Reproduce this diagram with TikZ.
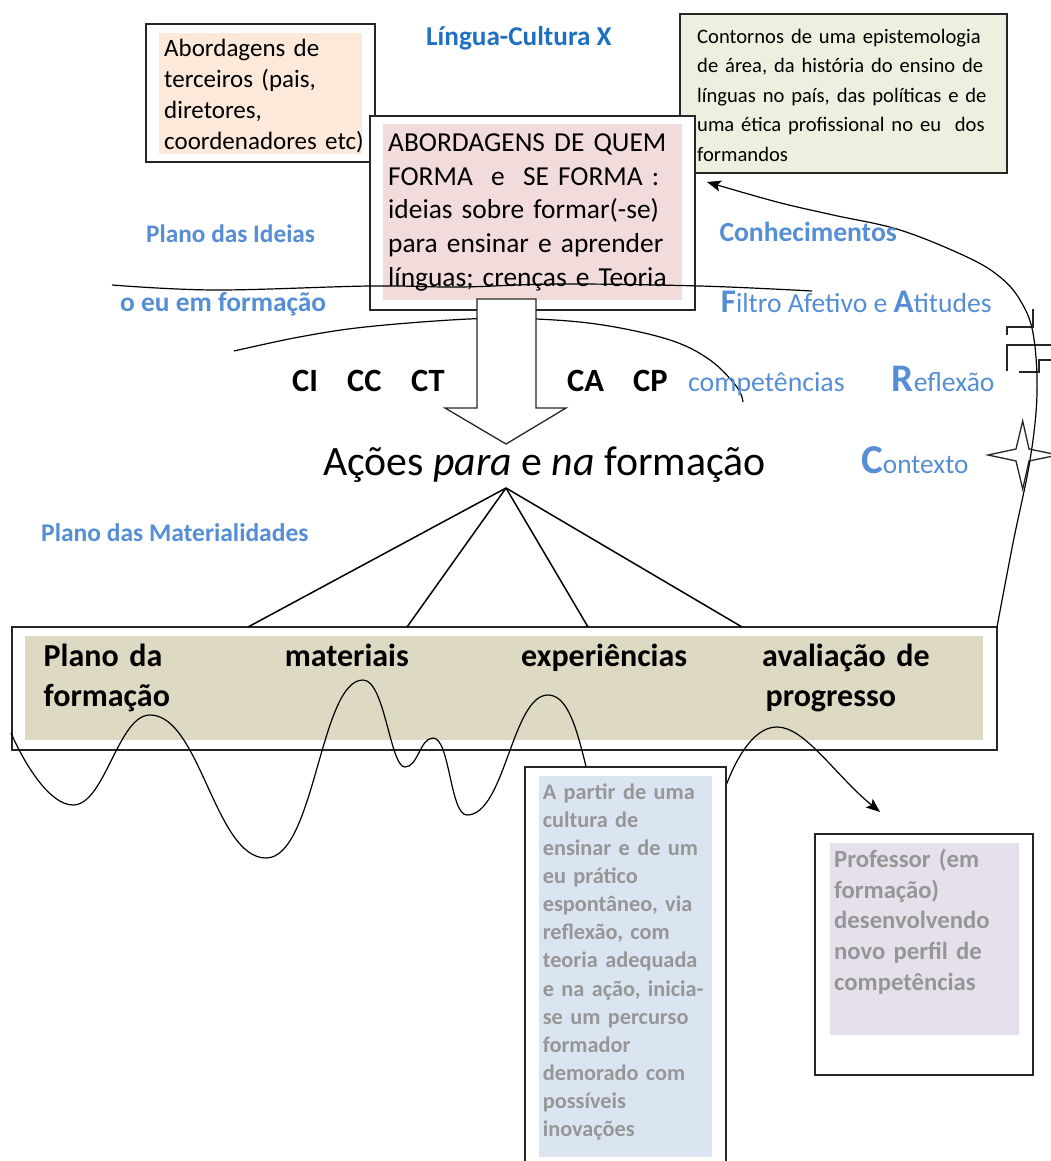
\documentclass[tikz,border=0pt]{standalone}
\usepackage{fontspec}
\setmainfont{Carlito}
\usetikzlibrary{arrows.meta,calc}
\definecolor{peach}{RGB}{253,233,217}
\definecolor{pinkf}{RGB}{242,220,219}
\definecolor{greenf}{RGB}{235,241,222}
\definecolor{tanf}{RGB}{221,217,195}
\definecolor{bluef}{RGB}{219,229,241}
\definecolor{lavf}{RGB}{229,224,236}
\definecolor{lblue}{RGB}{85,142,213}
\definecolor{dblue}{RGB}{31,112,192}
\definecolor{graytxt}{RGB}{150,150,150}
\definecolor{frameclr}{RGB}{38,38,38}
\newcommand{\fsz}[2]{\fontsize{#1}{#2}\selectfont}
\begin{document}
\begin{tikzpicture}[x=1pt,y=-1pt,
  frame/.style={draw=frameclr, line width=1.6pt, fill=white, rectangle, inner sep=0, outer sep=0, anchor=north west},
  fillbox/.style={rectangle, inner sep=0, outer sep=0, anchor=north west, draw=none},
  txt/.style={inner sep=0, anchor=base west, align=left},
  curve/.style={draw=black, line width=1.2pt},
  fan/.style={draw=black, line width=1.5pt},
  lbl/.style={inner sep=0, anchor=base west, text=lblue},
  bigtip/.style={-{Stealth[length=14pt,width=11pt,inset=3pt]}},
  bold/.style={inner sep=0, anchor=base west, font=\bfseries\fsz{32.5}{32.5}},
  band/.style={inner sep=0, anchor=base west, align=left, text width=230, font=\bfseries\fsz{32}{40}}
]
\useasboundingbox[fill=white] (0,0) rectangle (1050,1161);

% green box (top right)
\node[frame, fill=greenf, minimum width=327, minimum height=159] (green) at (680,14) {};
\node[txt, text width=320, font=\fsz{20.6}{29.5}] (greentxt) at (697,43.3)
  {Contornos de uma epistemologia\\ de área, da história do ensino de\\ línguas no país, das políticas e de\\ uma ética profissional no eu~ dos\\ formandos};

% top-left box
\node[frame, minimum width=229, minimum height=138] (third) at (146,24) {};
\node[fillbox, fill=peach, minimum width=203, minimum height=121] (thirdfill) at (159,33) {};
\node[txt, text width=220, font=\fsz{25}{30.9}] (thirdtxt) at (164,56.7)
  {Abordagens de\\ terceiros (pais,\\ diretores,\\ coordenadores etc)};

% main box
\node[frame, minimum width=325, minimum height=194] (main) at (370,116) {};
\node[fillbox, fill=pinkf, minimum width=299, minimum height=176] (mainfill) at (383,124) {};
\node[txt, text width=320, font=\fsz{27.4}{33.6}] (maintxt) at (388,151.7)
  {ABORDAGENS DE QUEM\\ FORMA~ e~ SE FORMA :\\ ideias sobre formar(-se)\\ para ensinar e aprender\\ línguas; crenças e Teoria};

% wavy separator line
\draw[curve] plot[smooth, tension=0.6] coordinates {(112,285) (215,290) (370,286) (460,287) (560,284) (700,286) (812,291)};

% arc
\draw[curve] plot[smooth, tension=0.6] coordinates {(234,351) (301,336.7) (368,326.7) (469,319) (536,319) (603,325) (670,340) (710,360) (736.7,386.7) (743,402)};

% block arrow
\draw[draw=frameclr, line width=1.3pt, fill=white] (477,299) -- (536,299) -- (536,408) -- (566,408) -- (506,444) -- (445,408) -- (477,408) -- cycle;

% competence codes
\node[bold] (ci) at (292,391.7) {CI};
\node[bold] (cc) at (347,391.7) {CC};
\node[bold] (ct) at (411,391.7) {CT};
\node[bold] (ca) at (567,391.7) {CA};
\node[bold] (cp) at (633,391.7) {CP};

% actions
\node[txt, font=\fsz{41.8}{42}] (acoes) at (323,475) {Ações \textit{para} e \textit{na} formação};
\coordinate (apex) at (506,488);

% band
\node[frame, minimum width=985, minimum height=123] (band) at (12,627) {};
\node[fillbox, fill=tanf, minimum width=958, minimum height=104] (bandfill) at (25,636) {};
\node[band] (b1) at (43.5,666.7) {Plano da\\ formação};
\node[band] (b2) at (284.6,666.7) {materiais};
\node[band] (b3) at (521,666.7) {experiências};
\node[band] (b4) at (762,666.7) {avaliação de\\ \hspace*{3.4pt}progresso};

\coordinate (t1) at (248,627);
\coordinate (t2) at (407,627);
\coordinate (t3) at (588,627);
\coordinate (t4) at (742,627);
\draw[fan] (apex) -- (t1);
\draw[fan] (apex) -- (t2);
\draw[fan] (apex) -- (t3);
\draw[fan] (apex) -- (t4);

% bottom wave
\coordinate (wstart) at (11,733);
\coordinate (wend) at (880,812);
\draw[curve, bigtip] (wstart) .. controls (25,765) and (50,805) .. (73,805)
  .. controls (105,805) and (118,715) .. (150,715)
  .. controls (200,715) and (215,858) .. (266,858)
  .. controls (315,858) and (320,680) .. (363,680)
  .. controls (385,680) and (390,767) .. (405,767)
  .. controls (418,767) and (420,738) .. (433,738)
  .. controls (450,738) and (450,815) .. (467,815)
  .. controls (505,815) and (512,695) .. (548,695)
  .. controls (572,695) and (580,745) .. (592,790)
  .. controls (610,860) and (700,850) .. (727,783)
  .. controls (740,750) and (757,727) .. (777,727)
  .. controls (805,727) and (835,775) .. (wend);

% A partir box
\node[frame, minimum width=201, minimum height=420] (apbox) at (525,767) {};
\node[fillbox, fill=bluef, minimum width=173, minimum height=381] (apfill) at (539,776) {};
\node[txt, text width=180, text=graytxt, font=\bfseries\fsz{22.3}{28.1}] (aptxt) at (542.6,799.3)
  {A partir de uma\\ cultura de\\ ensinar e de um\\ eu prático\\ espontâneo, via\\ reflexão, com\\ teoria adequada\\ e na ação, inicia-\\ se um percurso\\ formador\\ demorado com\\ possíveis\\ inovações};

% Professor box
\node[frame, minimum width=218, minimum height=241] (prof) at (815,834) {};
\node[fillbox, fill=lavf, minimum width=189, minimum height=192] (proffill) at (830,843) {};
\node[txt, text width=185, text=graytxt, font=\bfseries\fsz{24.7}{30.8}] (proftxt) at (834,867.3)
  {Professor (em\\ formação)\\ desenvolvendo\\ novo perfil de\\ competências};

% star
\draw[draw=frameclr, line width=1.3pt] (1022.7,421) -- (1029,449) -- (1058,455) -- (1029,461) -- (1022.7,489) -- (1016,461) -- (988,455) -- (1016,449) -- cycle;

% bracket marks
\draw[draw=frameclr, line width=1.5pt] (1033,309) -- (1033,327) -- (1007,327) -- (1007,335);
\draw[draw=frameclr, line width=1.5pt] (1052,345) -- (1007,345) -- (1007,371);
\draw[draw=frameclr, line width=1.5pt] (1052,360) -- (1039,360) -- (1039,372) -- (1019,372);

% big right curve
\coordinate (gtip) at (707,182);
\draw[curve, bigtip] plot[smooth, tension=0.6] coordinates {(band.north east) (1013,543) (1030,460) (1037,393) (1033,333) (1020,300) (1000,277) (967,257) (900,230) (833,215) (777,202) (gtip)};

% labels
\node[lbl, text=dblue, font=\bfseries\fsz{27.2}{27}] (lingua) at (426,46) {Língua-Cultura X};
\node[lbl, font=\bfseries\fsz{25.3}{25}] (ideias) at (146,242.3) {Plano das Ideias};
\node[lbl, font=\bfseries\fsz{27.4}{27}] (eu) at (120,311.7) {o eu em formação};
\node[lbl, font=\bfseries\fsz{25.5}{25}] (mat) at (41,541) {Plano das Materialidades};
\node[lbl, font=\bfseries\fsz{27.6}{27}] (conh) at (719.3,241.7) {Conhecimentos};
\node[lbl, font=\fsz{27.6}{27}] (filtro) at (720.7,312.7) {{\bfseries\fsz{33}{33}F}iltro Afetivo e {\bfseries\fsz{33}{33}A}titudes};
\node[lbl, font=\fsz{27.8}{27}] (comp) at (688,391.7) {competências};
\node[lbl, font=\fsz{27.6}{27}] (refl) at (891.7,391.7) {{\bfseries\fsz{39}{39}R}eflexão};
\node[lbl, font=\fsz{27.3}{27}] (cont) at (861,473.3) {{\bfseries\fsz{41}{41}C}ontexto};
\end{tikzpicture}
\end{document}
